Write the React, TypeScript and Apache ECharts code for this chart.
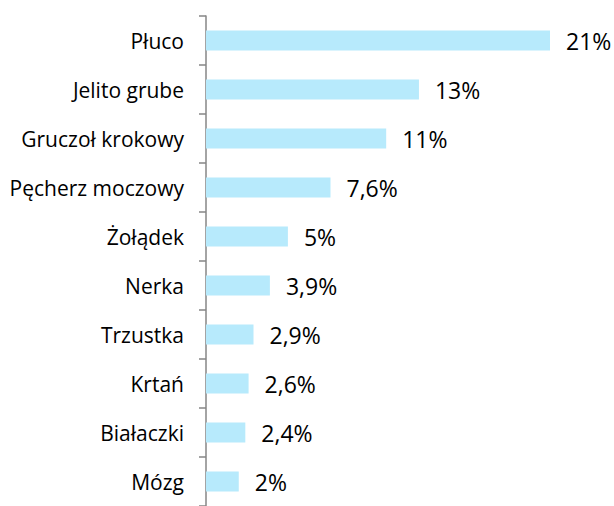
import React, { useEffect, useRef } from "react";
import * as echarts from "echarts";

const categories = ["Płuco", "Jelito grube", "Gruczoł krokowy", "Pęcherz moczowy", "Żołądek", "Nerka", "Trzustka", "Krtań", "Białaczki", "Mózg"];
const values = [21, 13, 11, 7.6, 5, 3.9, 2.9, 2.6, 2.4, 2];

export default function App() {
  const ref = useRef<HTMLDivElement>(null);
  useEffect(() => {
    const chart = echarts.init(ref.current!, null, { renderer: "svg" });
    chart.setOption({
      animation: false,
      backgroundColor: "#ffffff",
      grid: { left: 206, top: 16, right: 64, height: 492 },
      xAxis: { type: "value", min: 0, max: 21, show: false },
      yAxis: {
        type: "category",
        data: categories,
        inverse: true,
        axisLine: { show: true, lineStyle: { color: "#868686", width: 1.5 } },
        axisTick: { show: true, length: 7, lineStyle: { color: "#868686", width: 1.5 } },
        axisLabel: { color: "#000", fontSize: 21, fontFamily: "Open Sans", margin: 22 },
        splitLine: { show: false },
      },
      series: [
        {
          type: "bar",
          data: values,
          barWidth: 20,
          itemStyle: { color: "#b7eafc" },
          label: {
            show: true,
            position: "right",
            distance: 16,
            color: "#000",
            fontSize: 23,
            fontFamily: "Open Sans",
            formatter: (p: any) => String(p.value).replace(".", ",") + "%",
          },
        },
      ],
    });
    return () => chart.dispose();
  }, []);
  return <div ref={ref} style={{ position: "fixed", left: 0, top: 0, width: 614, height: 506 }} />;
}
